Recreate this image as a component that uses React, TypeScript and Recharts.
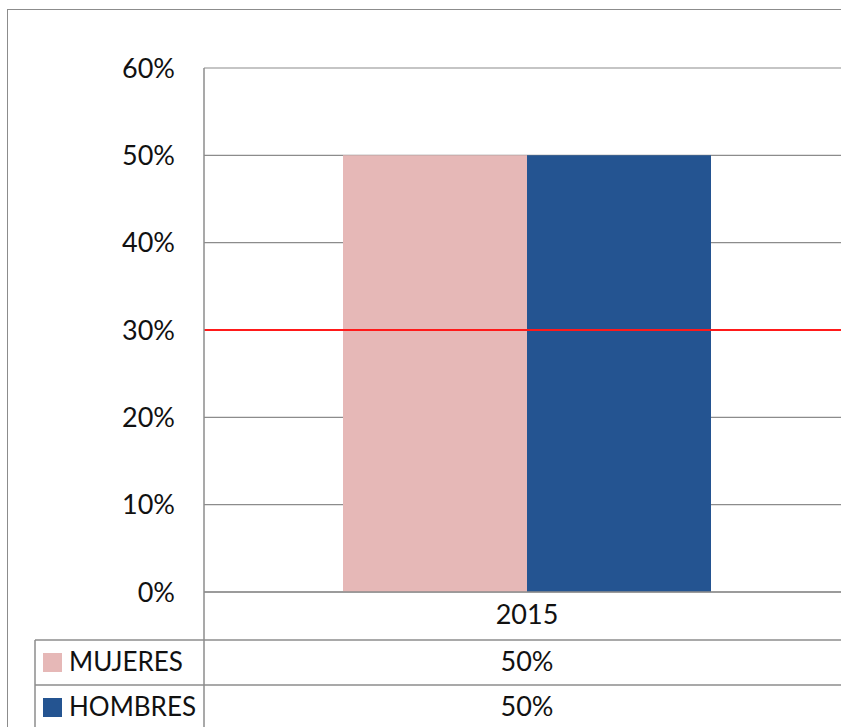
import { BarChart, Bar, XAxis, YAxis, CartesianGrid, ReferenceLine } from 'recharts'

const YEARS = ['2015']
const SERIES_NAMES = ['MUJERES', 'HOMBRES']
const MUJERES = [50]
const HOMBRES = [50]
const Y_TICKS = [0, 10, 20, 30, 40, 50, 60]
const TARGET = 30

const COLORS = { mujeres: '#E6B8B7', hombres: '#245491', grid: '#8C8C8C', red: '#FF1A1A', text: '#111111' }
const FONT = 'Lato, "Open Sans", sans-serif'

const data = YEARS.map((year, i) => ({ year, mujeres: MUJERES[i], hombres: HOMBRES[i] }))
const rows = [
  { name: SERIES_NAMES[0], color: COLORS.mujeres, values: MUJERES },
  { name: SERIES_NAMES[1], color: COLORS.hombres, values: HOMBRES }
]

// x-axis tick that also draws the data table under the plot
function TableTick(props: any) {
  const { x, payload, index } = props
  const rowY = [640, 685]
  return (
    <g fontFamily={FONT} fontSize={27} fill={COLORS.text}>
      <text x={x} y={617} textAnchor="middle" dominantBaseline="middle">{payload.value}</text>
      {index === 0 && (
        <g>
          <line x1={204} y1={592} x2={204} y2={760} stroke={COLORS.grid} strokeWidth={1.5} />
          <line x1={35} y1={640} x2={35} y2={760} stroke={COLORS.grid} strokeWidth={1.5} />
          {rowY.map((ry) => (
            <line key={ry} x1={35} y1={ry} x2={900} y2={ry} stroke={COLORS.grid} strokeWidth={1.5} />
          ))}
        </g>
      )}
      {rows.map((r, ri) => (
        <g key={r.name}>
          {index === 0 && (
            <g>
              <rect x={43} y={rowY[ri] + 13} width={19} height={19} fill={r.color} />
              <text x={69} y={rowY[ri] + 24} dominantBaseline="middle" textAnchor="start" fontSize={26}>{r.name}</text>
            </g>
          )}
          <text x={x} y={rowY[ri] + 24} textAnchor="middle" dominantBaseline="middle">{`${r.values[index]}%`}</text>
        </g>
      ))}
    </g>
  )
}

export default function App() {
  return (
    <div style={{ position: 'absolute', left: 0, top: 0, width: 841, height: 727, overflow: 'hidden', background: '#fff' }}>
      <div style={{ position: 'absolute', left: 7, top: 9, width: 900, height: 800, borderTop: '1.5px solid #8C8C8C', borderLeft: '1.5px solid #8C8C8C' }} />
      <div style={{ position: 'absolute', left: 0, top: 0 }}>
        <BarChart width={852} height={760} data={data} margin={{ top: 68, right: 2, left: 0, bottom: 0 }} barCategoryGap={139} barGap={0}>
          <CartesianGrid vertical={false} stroke={COLORS.grid} strokeWidth={1.2} />
          <XAxis dataKey="year" axisLine={{ stroke: COLORS.grid, strokeWidth: 1.5 }} tickLine={false} tick={<TableTick />} height={168} interval={0} />
          <YAxis
            width={204}
            domain={[0, 60]}
            ticks={Y_TICKS}
            tickFormatter={(v) => `${v}%`}
            axisLine={{ stroke: COLORS.grid, strokeWidth: 1.5 }}
            tickLine={false}
            tickSize={0}
            tickMargin={29}
            tick={{ fontFamily: FONT, fontSize: 27, fill: COLORS.text }}
          />
          <Bar dataKey="mujeres" name={SERIES_NAMES[0]} fill={COLORS.mujeres} isAnimationActive={false} />
          <Bar dataKey="hombres" name={SERIES_NAMES[1]} fill={COLORS.hombres} isAnimationActive={false} />
          <ReferenceLine y={TARGET} stroke={COLORS.red} strokeWidth={1.8} ifOverflow="extendDomain" />
        </BarChart>
      </div>
    </div>
  )
}
